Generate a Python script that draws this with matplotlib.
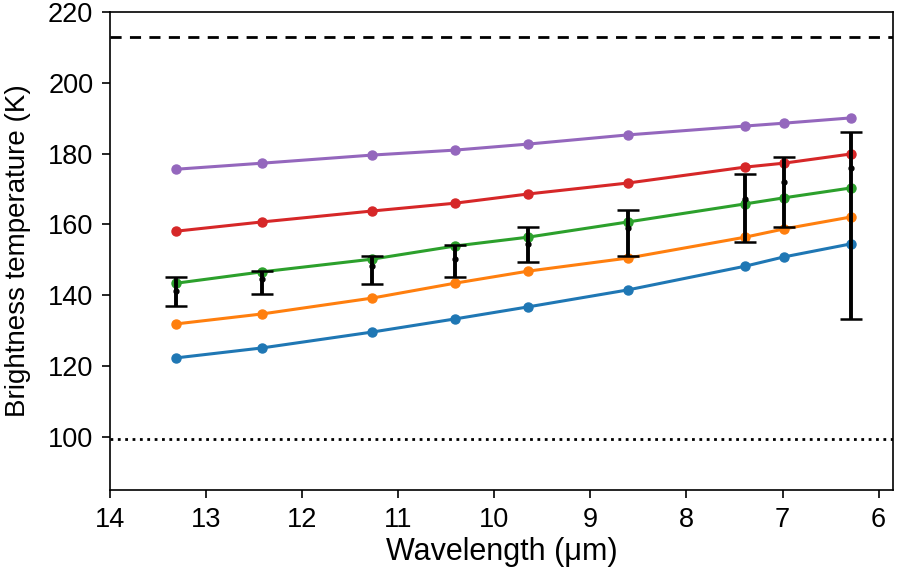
import matplotlib.pyplot as plt
import numpy as np

plt.rcParams['font.family'] = ['Liberation Sans', 'DejaVu Sans']

wavelength = [13.31, 12.42, 11.27, 10.41, 9.65, 8.61, 7.39, 6.99, 6.29]

model_blue = [122.3, 125.1, 129.6, 133.3, 136.7, 141.5, 148.2, 150.8, 154.5]
model_orange = [131.9, 134.7, 139.2, 143.4, 146.8, 150.5, 156.4, 158.7, 162.1]
model_green = [143.4, 146.6, 150.2, 153.9, 156.4, 160.7, 165.8, 167.5, 170.3]
model_red = [158.1, 160.7, 163.8, 166.0, 168.6, 171.7, 176.2, 177.3, 179.9]
model_purple = [175.6, 177.3, 179.6, 181.0, 182.7, 185.3, 187.8, 188.6, 190.1]

obs = [141.2, 144.6, 148.2, 150.2, 154.5, 159.0, 167.2, 172.0, 175.9]
obs_upper = [145.1, 146.8, 151.1, 154.2, 159.3, 164.1, 174.2, 179.0, 186.1]
obs_lower = [137.0, 140.3, 143.2, 145.1, 149.4, 151.1, 155.0, 159.3, 133.3]

upper_limit = 212.9
lower_limit = 99.4

fig = plt.figure(figsize=(8.97, 5.75), dpi=100)
ax = fig.add_axes([0.1226, 0.148, 0.873, 0.831])

models = [model_blue, model_orange, model_green, model_red, model_purple]
colors = ['#1f77b4', '#ff7f0e', '#2ca02c', '#d62728', '#9467bd']
for vals, c in zip(models, colors):
    ax.plot(wavelength, vals, '-o', color=c, lw=2.2, ms=6.5, zorder=2)

obs = np.array(obs)
yerr = [obs - np.array(obs_lower), np.array(obs_upper) - obs]
ax.errorbar(wavelength, obs, yerr=yerr, fmt='o', color='black', ms=3.5,
            elinewidth=2.8, capsize=8, capthick=1.8, zorder=3)

ax.axhline(upper_limit, color='black', ls='--', lw=2, dashes=(4, 3))
ax.axhline(lower_limit, color='black', ls=':', lw=2)

ax.set_xlim(14, 5.85)
ax.set_ylim(85, 220)
ax.set_yticks([100, 120, 140, 160, 180, 200, 220])
ax.set_xticks([14, 13, 12, 11, 10, 9, 8, 7, 6])
ax.tick_params(labelsize=19.5, length=6, width=1.2, pad=6)
for s in ax.spines.values():
    s.set_linewidth(1.2)

ax.set_xlabel('Wavelength (μm)', fontsize=22, labelpad=3)
ax.set_ylabel('Brightness temperature (K)', fontsize=20, labelpad=12)

fig.savefig('out.png', dpi=100)
